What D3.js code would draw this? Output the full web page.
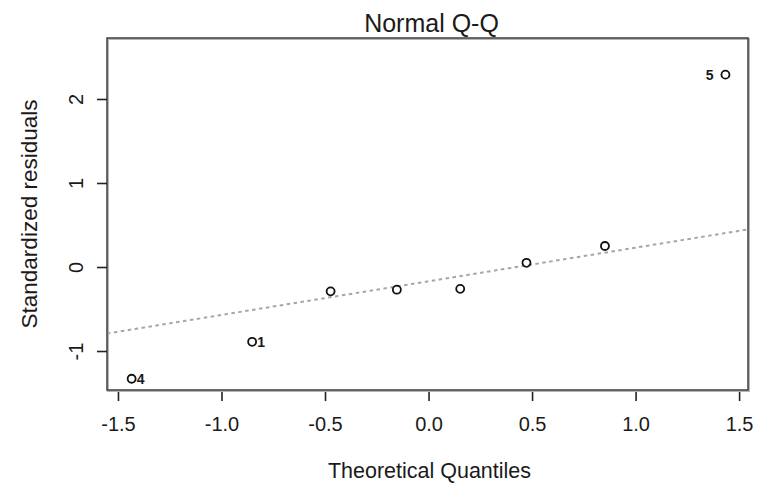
<!DOCTYPE html>
<html>
<head>
<meta charset="utf-8">
<script src="https://cdn.jsdelivr.net/npm/d3@7"></script>
<style>
  html, body { margin: 0; padding: 0; background: #fff; }
  svg { display: block; }
  text { font-family: "Liberation Sans", Arial, Helvetica, sans-serif; fill: #1a1a1a; }
</style>
</head>
<body>
<svg id="chart" width="763" height="486"></svg>
<script>
// ---- data ----
const theoreticalQuantiles = [-1.434, -0.852, -0.473, -0.153, 0.153, 0.473, 0.852, 1.434];
const standardizedResiduals = [-1.33, -0.89, -0.29, -0.27, -0.26, 0.05, 0.25, 2.29];
const pointLabels = ["4", "1", "", "", "", "", "", "5"];
const labelSide = ["right", "right", "", "", "", "", "", "left"];
const xTicks = [-1.5, -1.0, -0.5, 0.0, 0.5, 1.0, 1.5];
const yTicks = [-1, 0, 1, 2];
const xDomain = [-1.553, 1.543];
const yDomain = [-1.464, 2.726];
const title = "Normal Q-Q";
const xLabel = "Theoretical Quantiles";
const yLabel = "Standardized residuals";

// ---- layout ----
const box = { left: 107, top: 38, right: 748, bottom: 390 };
const svg = d3.select("#chart");

const x = d3.scaleLinear().domain(xDomain).range([box.left, box.right]);
const y = d3.scaleLinear().domain(yDomain).range([box.bottom, box.top]);

// clip for reference line
svg.append("clipPath").attr("id", "plotclip")
  .append("rect")
  .attr("x", box.left).attr("y", box.top)
  .attr("width", box.right - box.left).attr("height", box.bottom - box.top);

// qqline: through first and third quartiles
const q1y = d3.quantile(standardizedResiduals.slice().sort(d3.ascending), 0.25);
const q3y = d3.quantile(standardizedResiduals.slice().sort(d3.ascending), 0.75);
const zq = 0.6744898;
const slope = (q3y - q1y) / (2 * zq);
const intercept = q1y + slope * zq;

svg.append("line")
  .attr("clip-path", "url(#plotclip)")
  .attr("x1", x(xDomain[0])).attr("y1", y(intercept + slope * xDomain[0]))
  .attr("x2", x(xDomain[1])).attr("y2", y(intercept + slope * xDomain[1]))
  .attr("stroke", "#a6a6a6")
  .attr("stroke-width", 2)
  .attr("stroke-dasharray", "3.5,3.5");

// box (with soft shadow look)
svg.append("rect")
  .attr("x", box.left + 1).attr("y", box.top + 1)
  .attr("width", box.right - box.left).attr("height", box.bottom - box.top)
  .attr("fill", "none").attr("stroke", "#b5b5b5").attr("stroke-width", 2);
svg.append("rect")
  .attr("x", box.left).attr("y", box.top)
  .attr("width", box.right - box.left).attr("height", box.bottom - box.top)
  .attr("fill", "none").attr("stroke", "#4a4a4a").attr("stroke-width", 1.6);

// x axis
const xAxis = d3.axisBottom(x).tickValues(xTicks).tickFormat(d3.format(".1f"))
  .tickSize(9).tickPadding(16);
const gx = svg.append("g").attr("transform", `translate(0,${box.bottom + 2})`).call(xAxis);
gx.select(".domain").remove();
gx.selectAll(".tick line").attr("stroke", "#222").attr("stroke-width", 1.6);
gx.selectAll(".tick text")
  .attr("font-size", 20)
  .attr("fill", "#1a1a1a")
  .attr("font-family", "Liberation Sans, Arial, sans-serif")
  .text(d => d3.format(".1f")(d).replace("\u2212", "-"));

// y axis (labels rotated like R)
const yAxis = d3.axisLeft(y).tickValues(yTicks).tickSize(10).tickFormat(d => String(d));
const gy = svg.append("g").attr("transform", `translate(${box.left},0)`).call(yAxis);
gy.select(".domain").remove();
gy.selectAll(".tick line").attr("stroke", "#222").attr("stroke-width", 1.6);
gy.selectAll(".tick text")
  .attr("font-size", 20)
  .attr("fill", "#1a1a1a")
  .attr("font-family", "Liberation Sans, Arial, sans-serif")
  .attr("x", null).attr("dy", null)
  .attr("text-anchor", "middle")
  .attr("transform", "translate(-24,0) rotate(-90)")
  .text(d => String(d));

// points
const pts = theoreticalQuantiles.map((t, i) => ({ t, r: standardizedResiduals[i], lab: pointLabels[i], side: labelSide[i] }));
svg.append("g").selectAll("circle")
  .data(pts).join("circle")
  .attr("cx", d => x(d.t)).attr("cy", d => y(d.r))
  .attr("r", 4)
  .attr("fill", "none")
  .attr("stroke", "#111")
  .attr("stroke-width", 1.8);

// point labels
svg.append("g").selectAll("text")
  .data(pts.filter(d => d.lab)).join("text")
  .attr("x", d => x(d.t) + (d.side === "right" ? 5 : -12))
  .attr("y", d => y(d.r) + 5)
  .attr("text-anchor", d => d.side === "right" ? "start" : "end")
  .attr("font-size", 14)
  .attr("font-weight", "bold")
  .attr("fill", "#111")
  .text(d => d.lab);

// title
svg.append("text")
  .attr("x", (box.left + box.right) / 2 + 4).attr("y", 32)
  .attr("text-anchor", "middle")
  .attr("font-size", 25)
  .text(title);

// axis titles
svg.append("text")
  .attr("x", (box.left + box.right) / 2 + 2).attr("y", 478)
  .attr("text-anchor", "middle")
  .attr("font-size", 21.5)
  .text(xLabel);

svg.append("text")
  .attr("transform", `translate(37,${(box.top + box.bottom) / 2}) rotate(-90)`)
  .attr("text-anchor", "middle")
  .attr("font-size", 22.5)
  .text(yLabel);
</script>
</body>
</html>
